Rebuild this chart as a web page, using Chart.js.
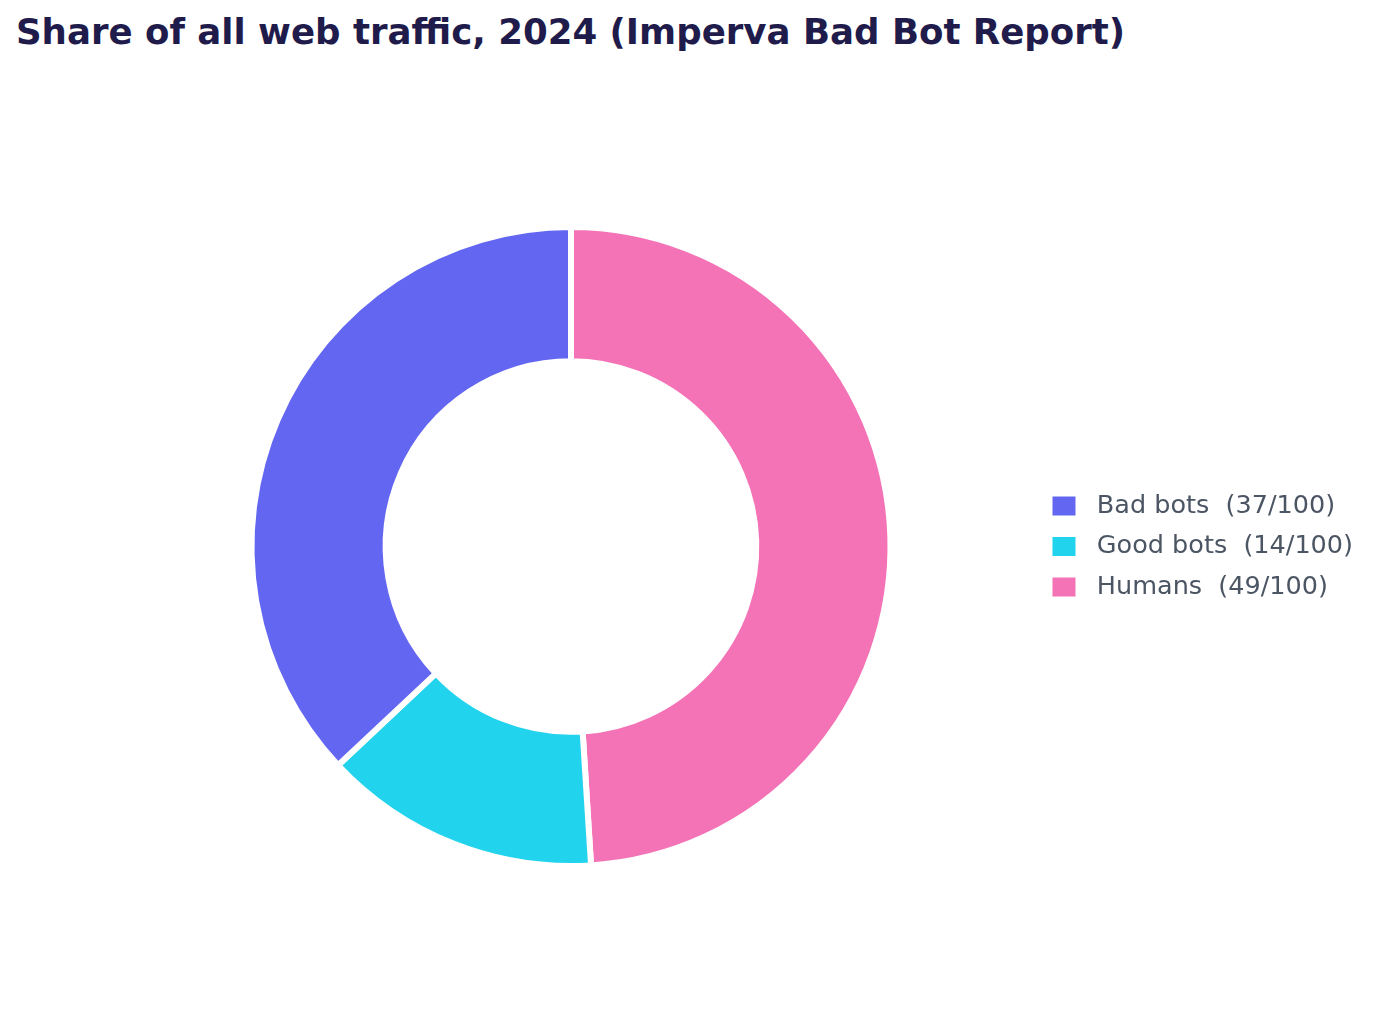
<!DOCTYPE html>
<html>
<head>
<meta charset="utf-8">
<script src="https://cdn.jsdelivr.net/npm/chart.js@4/dist/chart.umd.min.js"></script>
<style>
  body { margin: 0; background: #fff; }
  #wrap { position: relative; width: 1380px; height: 1023px; }
  #title {
    position: absolute; left: 16px; top: 11px; margin: 0;
    font-family: "DejaVu Sans", sans-serif; font-weight: bold;
    font-size: 35.6px; line-height: normal; color: #1f1b4b; white-space: nowrap;
  }
  canvas { position: absolute; left: 0; top: 0; }
</style>
</head>
<body>
<div id="wrap">
  <h1 id="title">Share of all web traffic, 2024 (Imperva Bad Bot Report)</h1>
  <canvas id="doughnut-chart" width="1380" height="1023"></canvas>
</div>
<script>
// drawn clockwise from the top: Humans, Good bots, Bad bots
var categories = ["Humans", "Good bots", "Bad bots"];
var shares = [49, 14, 37];
var colours = ["#f472b6", "#22d3ee", "#6366f1"];

Chart.defaults.font.family = "'DejaVu Sans', sans-serif";

new Chart(document.getElementById("doughnut-chart"), {
    type: 'doughnut',
    data: {
        labels: categories,
        datasets: [{
            data: shares,
            backgroundColor: colours,
            borderColor: "#ffffff",
            borderWidth: 6
        }]
    },
    options: {
        responsive: false,
        devicePixelRatio: 1,
        animation: false,
        cutout: '58%',
        layout: { padding: { top: 224, bottom: 154, left: 105, right: 17 } },
        plugins: {
            tooltip: { enabled: false },
            legend: {
                position: 'right',
                reverse: true,
                labels: {
                    boxWidth: 24,
                    boxHeight: 20,
                    padding: 15,
                    color: "#4b5563",
                    font: { size: 25.5 },
                    generateLabels: function(chart) {
                        return chart.data.labels.map(function(name, i) {
                            return {
                                text: " " + name + "  (" + shares[i] + "/100)",
                                fillStyle: colours[i],
                                strokeStyle: "#ffffff",
                                lineWidth: 1,
                                fontColor: "#4b5563",
                                index: i,
                                hidden: false
                            };
                        });
                    }
                }
            }
        }
    }
});
</script>
</body>
</html>
